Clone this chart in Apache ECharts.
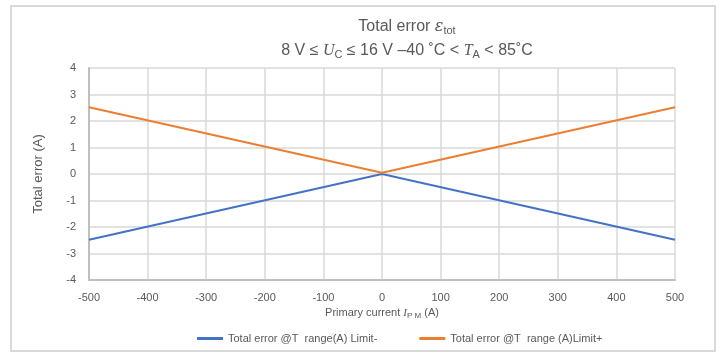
<!DOCTYPE html>
<html><head><meta charset="utf-8">
<script src="https://cdn.jsdelivr.net/npm/echarts@6/dist/echarts.min.js"></script>
<style>html,body{margin:0;padding:0;background:#fff}#c{width:725px;height:361px}</style>
</head><body><div id="c"></div>
<script>
const currents = [-500, 0, 500];
const limitMinus = [-2.48, 0, -2.48];
const limitPlus = [2.52, 0.05, 2.52];
const seriesNames = ['Total error @T  range(A) Limit-', 'Total error @T  range (A)Limit+'];
const xTicks = [-500, 500, 100];
const yTicks = [-4, 4, 1];

const chart = echarts.init(document.getElementById('c'));
const txt = '#595959';
chart.setOption({
  animation: false,
  backgroundColor: '#fff',
  textStyle: { fontFamily: 'Liberation Sans, Arial, sans-serif' },
  graphic: [{
    type: 'rect', shape: { x: 11, y: 6, width: 704, height: 345 },
    style: { fill: 'none', stroke: '#d9d9d9', lineWidth: 2 }, silent: true
  }],
  title: [{
    left: 402, top: 13, textAlign: 'center',
    text: '{a|Total error }{e|ε}{s|tot}',
    textStyle: { fontWeight: 'normal', rich: {
      a: { fontSize: 16, color: txt, fontFamily: 'Liberation Sans', fontWeight: 'normal' },
      e: { fontSize: 16, color: txt, fontFamily: 'DejaVu Serif', fontStyle: 'italic', fontWeight: 'normal' },
      s: { fontSize: 11, color: txt, fontFamily: 'Liberation Sans', fontWeight: 'normal', padding: [7, 0, 0, 0] }
    } }
  }, {
    left: 402, top: 37, textAlign: 'center',
    text: '{a|8 V ≤ }{i|U}{s|C}{a| ≤ 16 V –40 ˚C < }{i|T}{s|A}{a| < 85˚C}',
    textStyle: { fontWeight: 'normal', rich: {
      a: { fontSize: 16, color: txt, fontFamily: 'Liberation Sans', fontWeight: 'normal' },
      i: { fontSize: 16, color: txt, fontFamily: 'Liberation Serif', fontStyle: 'italic', fontWeight: 'normal' },
      s: { fontSize: 11, color: txt, fontFamily: 'Liberation Sans', fontWeight: 'normal', padding: [7, 0, 0, 0] }
    } }
  }],
  grid: { left: 89, top: 68, width: 586, height: 212, containLabel: false },
  legend: {
    orient: 'horizontal', top: 328, left: 192, width: 520, itemGap: 42, itemWidth: 26, itemHeight: 3,
    icon: 'rect',
    textStyle: { color: txt, fontSize: 11 },
    data: seriesNames
  },
  xAxis: {
    type: 'value', min: xTicks[0], max: xTicks[1], interval: xTicks[2],
    name: '{a|Primary current }{i|I}{s|P M}{a| (A)}',
    nameLocation: 'middle', nameGap: 24,
    nameTextStyle: { rich: {
      a: { fontSize: 11, color: txt },
      i: { fontSize: 11, color: txt, fontFamily: 'Liberation Serif', fontStyle: 'italic' },
      s: { fontSize: 8, color: txt, padding: [4, 0, 0, 0] }
    } },
    axisLine: { show: true, onZero: false, lineStyle: { color: '#bfbfbf', width: 2 } },
    axisTick: { show: false },
    splitLine: { show: true, lineStyle: { color: '#d9d9d9', width: 1.5 } },
    axisLabel: { color: txt, fontSize: 11, margin: 12 }
  },
  yAxis: {
    type: 'value', min: yTicks[0], max: yTicks[1], interval: yTicks[2],
    name: 'Total error (A)', nameLocation: 'middle', nameGap: 44,
    nameTextStyle: { color: txt, fontSize: 13 },
    axisLine: { show: true, onZero: false, lineStyle: { color: '#bfbfbf', width: 2 } },
    axisTick: { show: false },
    splitLine: { show: true, lineStyle: { color: '#d9d9d9', width: 1.5 } },
    axisLabel: { color: txt, fontSize: 11, margin: 13 }
  },
  series: [{
    name: seriesNames[0], type: 'line', showSymbol: false,
    data: currents.map((x, i) => [x, limitMinus[i]]),
    lineStyle: { color: '#4472C4', width: 2 }, itemStyle: { color: '#4472C4' }
  }, {
    name: seriesNames[1], type: 'line', showSymbol: false,
    data: currents.map((x, i) => [x, limitPlus[i]]),
    lineStyle: { color: '#ED7D31', width: 2 }, itemStyle: { color: '#ED7D31' }
  }]
});
</script></body></html>
